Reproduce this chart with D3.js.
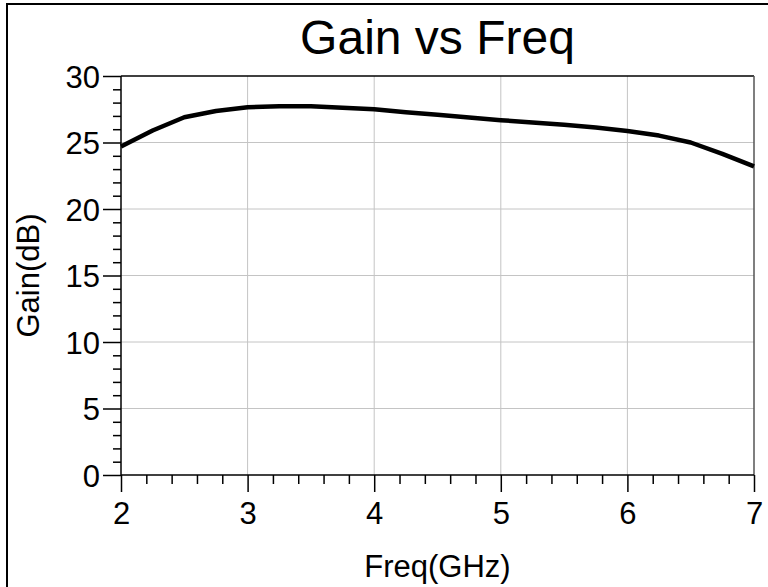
<!DOCTYPE html>
<html><head><meta charset="utf-8">
<script src="https://cdn.jsdelivr.net/npm/d3@7"></script>
<style>html,body{margin:0;padding:0;background:#fff;}svg{display:block;}</style>
</head><body>
<script>
const freq = [2, 2.25, 2.5, 2.75, 3, 3.25, 3.5, 3.75, 4, 4.25, 4.5, 4.75, 5, 5.25, 5.5, 5.75, 6, 6.25, 6.5, 6.75, 7];
const gain = [24.7, 25.9, 26.9, 27.37, 27.65, 27.72, 27.73, 27.62, 27.5, 27.28, 27.08, 26.88, 26.68, 26.5, 26.33, 26.12, 25.87, 25.52, 25.0, 24.15, 23.2];
const xTicks = [2, 3, 4, 5, 6, 7];
const yTicks = [0, 5, 10, 15, 20, 25, 30];
const title = "Gain vs Freq";
const xTitle = "Freq(GHz)";
const yTitle = "Gain(dB)";

const W = 768, H = 587;
const L = 121, R = 754, T = 76, B = 475;
const svg = d3.select("body").append("svg").attr("width", W).attr("height", H);
const font = "'Liberation Sans', Arial, sans-serif";

const x = d3.scaleLinear().domain([2, 7]).range([L, R]);
const y = d3.scaleLinear().domain([0, 30]).range([B, T]);

// outer frame (left & top)
svg.append("path").attr("d", `M7,${H} L7,4 L${W},4`).attr("fill", "none").attr("stroke", "#000").attr("stroke-width", 2);

// grid
const g = svg.append("g");
g.selectAll("line.gx").data(xTicks.slice(1, -1)).enter().append("line")
  .attr("x1", d => x(d)).attr("x2", d => x(d)).attr("y1", T).attr("y2", B)
  .attr("stroke", "#c4c4c4").attr("stroke-width", 1);
g.selectAll("line.gy").data(yTicks.slice(1, -1)).enter().append("line")
  .attr("x1", L).attr("x2", R).attr("y1", d => y(d)).attr("y2", d => y(d))
  .attr("stroke", "#c4c4c4").attr("stroke-width", 1);

// top and right borders
svg.append("line").attr("x1", L).attr("x2", R).attr("y1", T).attr("y2", T).attr("stroke", "#000").attr("stroke-width", 1.5);
svg.append("line").attr("x1", R).attr("x2", R).attr("y1", T).attr("y2", B).attr("stroke", "#555").attr("stroke-width", 1.5);

// y axis
const yAxis = d3.axisLeft(y).tickValues(yTicks).tickSize(18).tickPadding(3).tickFormat(d3.format("d"));
const ya = svg.append("g").attr("transform", `translate(${L},0)`).call(yAxis);
ya.select(".domain").remove();
const yMinor = d3.axisLeft(y).tickValues(d3.range(0, 31, 1).filter(v => v % 5 !== 0)).tickSize(8).tickFormat("");
const ym = svg.append("g").attr("transform", `translate(${L},0)`).call(yMinor);
ym.select(".domain").remove();
ya.selectAll("text").attr("font-family", font).attr("font-size", 31).attr("fill", "#000").attr("dy", "0.36em");

// x axis
const xAxis = d3.axisBottom(x).tickValues(xTicks).tickSize(17).tickPadding(10).tickFormat(d3.format("d"));
const xa = svg.append("g").attr("transform", `translate(0,${B})`).call(xAxis);
xa.select(".domain").remove();
const xMinor = d3.axisBottom(x).tickValues(d3.range(2, 7.001, 0.2).filter(v => Math.abs(v - Math.round(v)) > 0.01)).tickSize(9).tickFormat("");
const xm = svg.append("g").attr("transform", `translate(0,${B})`).call(xMinor);
xm.select(".domain").remove();
xa.selectAll("text").attr("font-family", font).attr("font-size", 31).attr("fill", "#000");
svg.selectAll("g.tick line").attr("stroke", "#000").attr("stroke-width", 1.5);

// axis lines
svg.append("line").attr("x1", L).attr("x2", L).attr("y1", T).attr("y2", B).attr("stroke", "#000").attr("stroke-width", 1.5);
svg.append("line").attr("x1", L).attr("x2", R).attr("y1", B).attr("y2", B).attr("stroke", "#000").attr("stroke-width", 1.5);

// data line
const line = d3.line().x((d, i) => x(freq[i])).y(d => y(d));
svg.append("path").datum(gain).attr("d", line).attr("fill", "none")
  .attr("stroke", "#000").attr("stroke-width", 4.5).attr("stroke-linejoin", "round");

// titles
svg.append("text").attr("x", (L + R) / 2).attr("y", 54).attr("text-anchor", "middle")
  .attr("font-family", font).attr("font-size", 48).text(title);
svg.append("text").attr("x", (L + R) / 2).attr("y", 577).attr("text-anchor", "middle")
  .attr("font-family", font).attr("font-size", 31).text(xTitle);
svg.append("text").attr("transform", `translate(39,${(T + B) / 2}) rotate(-90)`).attr("text-anchor", "middle")
  .attr("font-family", font).attr("font-size", 31).text(yTitle);
</script>
</body></html>
